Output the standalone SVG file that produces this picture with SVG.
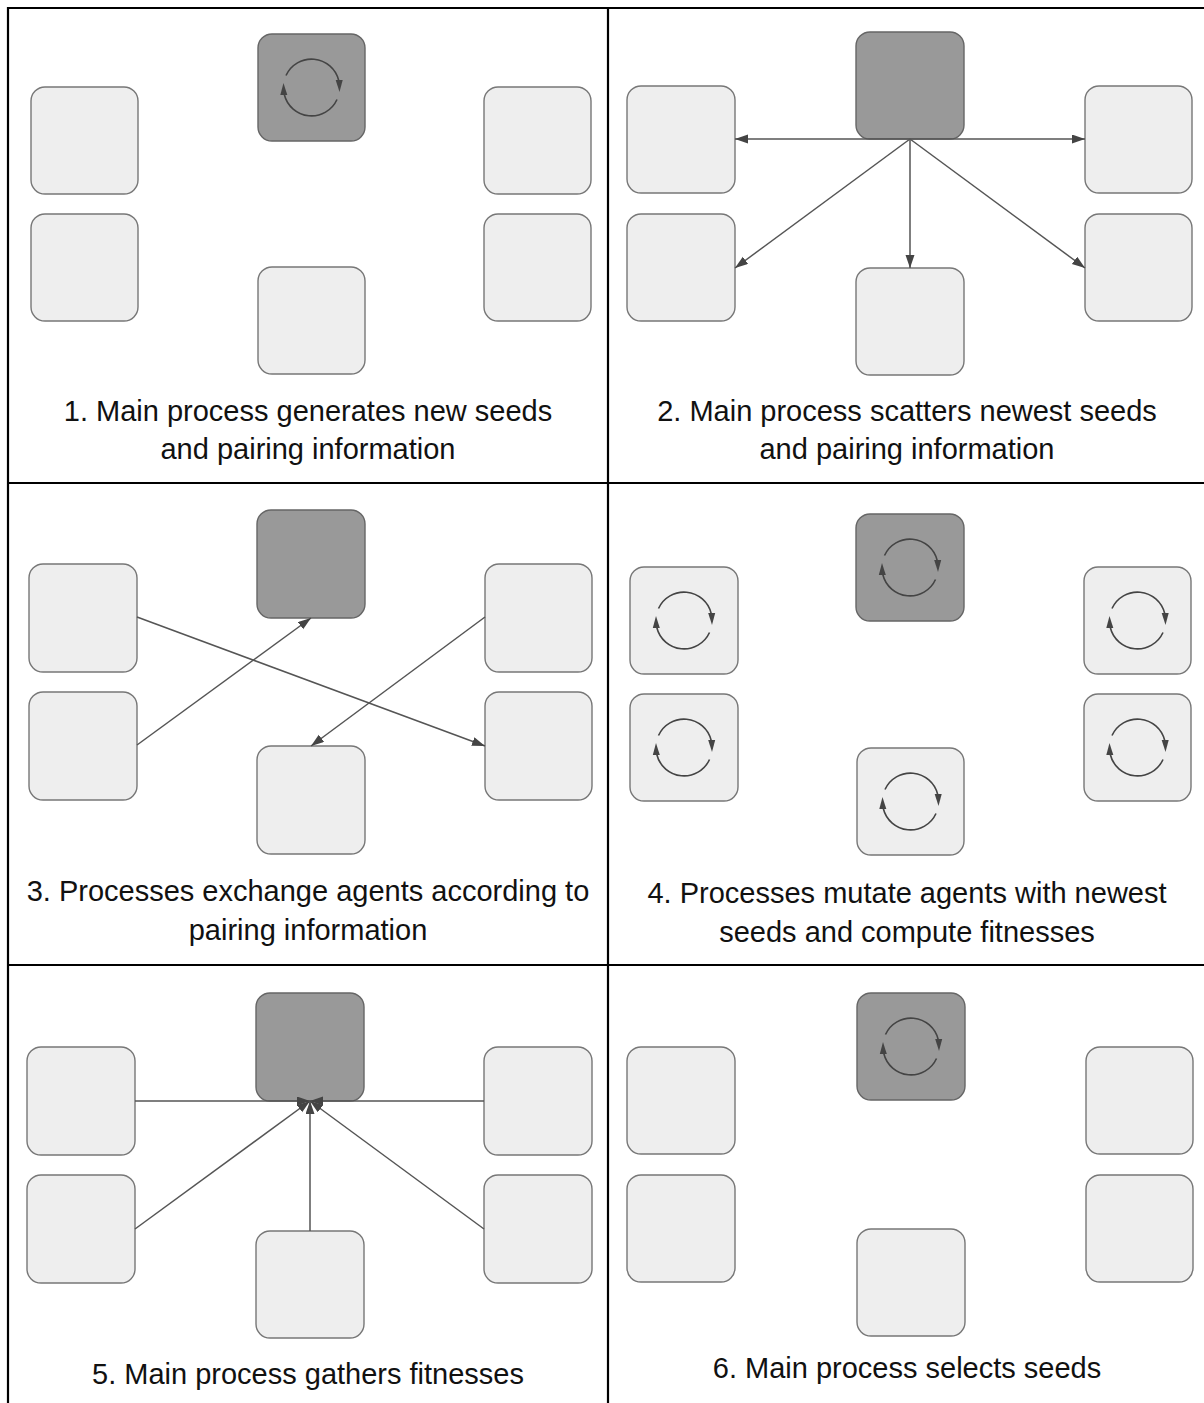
<svg xmlns="http://www.w3.org/2000/svg" xmlns:xlink="http://www.w3.org/1999/xlink" width="1204" height="1403" viewBox="0 0 1204 1403">
<style>
.light{fill:#eeeeee;stroke:#777777;stroke-width:1.4}
.dark{fill:#999999;stroke:#666666;stroke-width:1.4}
.conn{stroke:#555555;stroke-width:1.5;fill:none;marker-end:url(#arr)}
.cyc{stroke:#444444;stroke-width:1.6;fill:none}
.cyh{fill:#444444}
.cap{font-family:"Liberation Sans",Arial,sans-serif;font-size:29px;fill:#111;text-anchor:middle}
.grid{stroke:#000;stroke-width:2.2;fill:none}
</style>
<defs>
<marker id="arr" markerUnits="userSpaceOnUse" markerWidth="14" markerHeight="10" refX="13" refY="4.5" orient="auto"><path d="M0,0 L13,4.5 L0,9 z" fill="#444444"/></marker>
<g id="cycle">
<path class="cyc" d="M-25.5,-12 A28,28 0 0 1 27.2,-7"/>
<path class="cyc" d="M25.5,12 A28,28 0 0 1 -27.2,7"/>
<path class="cyh" d="M24.2,-7.5 L31.2,-7.5 L28,4.5 z"/>
<path class="cyh" d="M-24.2,7.5 L-31.2,7.5 L-28,-4.5 z"/>
</g>
</defs>
<rect width="1204" height="1403" fill="#ffffff"/>
<g id="grid">
<path class="grid" d="M8,1403 V8 H1204"/>
<path class="grid" d="M608,8 V1403"/>
<path class="grid" d="M8,483 H1204"/>
<path class="grid" d="M8,965 H1204"/>
</g>

<!-- Panel 1 -->
<g id="p1-main"><rect class="dark" x="258" y="34" width="107" height="107" rx="14"/><use xlink:href="#cycle" transform="translate(311.5,87.5)"/></g>
<g id="p1-lt"><rect class="light" x="31" y="87" width="107" height="107" rx="14"/></g>
<g id="p1-lb"><rect class="light" x="31" y="214" width="107" height="107" rx="14"/></g>
<g id="p1-rt"><rect class="light" x="484" y="87" width="107" height="107" rx="14"/></g>
<g id="p1-rb"><rect class="light" x="484" y="214" width="107" height="107" rx="14"/></g>
<g id="p1-b"><rect class="light" x="258" y="267" width="107" height="107" rx="14"/></g>
<text class="cap" x="308" y="421">1. Main process generates new seeds</text>
<text class="cap" x="308" y="459">and pairing information</text>

<!-- Panel 2 -->
<g id="p2-main"><rect class="dark" x="856" y="32" width="108" height="107" rx="14"/></g>
<g id="p2-lt"><rect class="light" x="627" y="86" width="108" height="107" rx="14"/></g>
<g id="p2-lb"><rect class="light" x="627" y="214" width="108" height="107" rx="14"/></g>
<g id="p2-rt"><rect class="light" x="1085" y="86" width="107" height="107" rx="14"/></g>
<g id="p2-rb"><rect class="light" x="1085" y="214" width="107" height="107" rx="14"/></g>
<g id="p2-b"><rect class="light" x="856" y="268" width="108" height="107" rx="14"/></g>
<text class="cap" x="907" y="421">2. Main process scatters newest seeds</text>
<text class="cap" x="907" y="459">and pairing information</text>

<!-- Panel 3 -->
<g id="p3-main"><rect class="dark" x="257" y="510" width="108" height="108" rx="14"/></g>
<g id="p3-lt"><rect class="light" x="29" y="564" width="108" height="108" rx="14"/></g>
<g id="p3-lb"><rect class="light" x="29" y="692" width="108" height="108" rx="14"/></g>
<g id="p3-rt"><rect class="light" x="485" y="564" width="107" height="108" rx="14"/></g>
<g id="p3-rb"><rect class="light" x="485" y="692" width="107" height="108" rx="14"/></g>
<g id="p3-b"><rect class="light" x="257" y="746" width="108" height="108" rx="14"/></g>
<text class="cap" x="308" y="901">3. Processes exchange agents according to</text>
<text class="cap" x="308" y="940">pairing information</text>

<!-- Panel 4 -->
<g id="p4-main"><rect class="dark" x="856" y="514" width="108" height="107" rx="14"/><use xlink:href="#cycle" transform="translate(910,567.5)"/></g>
<g id="p4-lt"><rect class="light" x="630" y="567" width="108" height="107" rx="14"/><use xlink:href="#cycle" transform="translate(684,620.5)"/></g>
<g id="p4-lb"><rect class="light" x="630" y="694" width="108" height="107" rx="14"/><use xlink:href="#cycle" transform="translate(684,747.5)"/></g>
<g id="p4-rt"><rect class="light" x="1084" y="567" width="107" height="107" rx="14"/><use xlink:href="#cycle" transform="translate(1137.5,620.5)"/></g>
<g id="p4-rb"><rect class="light" x="1084" y="694" width="107" height="107" rx="14"/><use xlink:href="#cycle" transform="translate(1137.5,747.5)"/></g>
<g id="p4-b"><rect class="light" x="857" y="748" width="107" height="107" rx="14"/><use xlink:href="#cycle" transform="translate(910.5,801.5)"/></g>
<text class="cap" x="907" y="903">4. Processes mutate agents with newest</text>
<text class="cap" x="907" y="942">seeds and compute fitnesses</text>

<!-- Panel 5 -->
<g id="p5-main"><rect class="dark" x="256" y="993" width="108" height="108" rx="14"/></g>
<g id="p5-lt"><rect class="light" x="27" y="1047" width="108" height="108" rx="14"/></g>
<g id="p5-lb"><rect class="light" x="27" y="1175" width="108" height="108" rx="14"/></g>
<g id="p5-rt"><rect class="light" x="484" y="1047" width="108" height="108" rx="14"/></g>
<g id="p5-rb"><rect class="light" x="484" y="1175" width="108" height="108" rx="14"/></g>
<g id="p5-b"><rect class="light" x="256" y="1231" width="108" height="107" rx="14"/></g>
<text class="cap" x="308" y="1384">5. Main process gathers fitnesses</text>

<!-- Panel 6 -->
<g id="p6-main"><rect class="dark" x="857" y="993" width="108" height="107" rx="14"/><use xlink:href="#cycle" transform="translate(911,1046.5)"/></g>
<g id="p6-lt"><rect class="light" x="627" y="1047" width="108" height="107" rx="14"/></g>
<g id="p6-lb"><rect class="light" x="627" y="1175" width="108" height="107" rx="14"/></g>
<g id="p6-rt"><rect class="light" x="1086" y="1047" width="107" height="107" rx="14"/></g>
<g id="p6-rb"><rect class="light" x="1086" y="1175" width="107" height="107" rx="14"/></g>
<g id="p6-b"><rect class="light" x="857" y="1229" width="108" height="107" rx="14"/></g>
<text class="cap" x="907" y="1378">6. Main process selects seeds</text>

<g id="connectors">
<!-- panel 2 -->
<line class="conn" x1="910" y1="139" x2="735" y2="139"/>
<line class="conn" x1="910" y1="139" x2="1085" y2="139"/>
<line class="conn" x1="910" y1="139" x2="735" y2="268"/>
<line class="conn" x1="910" y1="139" x2="910" y2="268"/>
<line class="conn" x1="910" y1="139" x2="1085" y2="268"/>
<!-- panel 3 -->
<line class="conn" x1="137" y1="617" x2="485" y2="746"/>
<line class="conn" x1="137" y1="745" x2="311" y2="618"/>
<line class="conn" x1="485" y1="617" x2="311" y2="746"/>
<!-- panel 5 -->
<line class="conn" x1="135" y1="1101" x2="310" y2="1101"/>
<line class="conn" x1="484" y1="1101" x2="310" y2="1101"/>
<line class="conn" x1="135" y1="1229" x2="310" y2="1101"/>
<line class="conn" x1="310" y1="1231" x2="310" y2="1101"/>
<line class="conn" x1="484" y1="1229" x2="310" y2="1101"/>
</g>
</svg>
